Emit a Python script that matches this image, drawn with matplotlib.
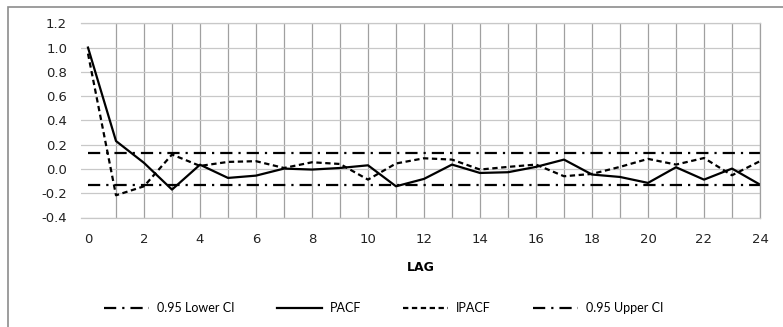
import matplotlib.pyplot as plt
from matplotlib.patches import Rectangle
import numpy as np

plt.rcParams['axes.unicode_minus'] = False

lags = list(range(25))
pacf = [1.0, 0.23, 0.05, -0.17, 0.035, -0.074, -0.055, 0.003, -0.005, 0.008,
        0.03, -0.143, -0.082, 0.036, -0.033, -0.027, 0.017, 0.077, -0.046, -0.066,
        -0.115, 0.014, -0.088, 0.003, -0.129]
ipacf = [0.95, -0.217, -0.143, 0.119, 0.025, 0.058, 0.064, 0.008, 0.055, 0.041,
         -0.088, 0.045, 0.088, 0.077, -0.005, 0.017, 0.036, -0.06, -0.041, 0.017,
         0.083, 0.036, 0.09, -0.052, 0.064]
upper_ci = 0.132
lower_ci = -0.135

fig = plt.figure(figsize=(7.83, 3.27), dpi=100)
ax = fig.add_axes([81 / 783, 1 - 217.5 / 327, (760 - 81) / 783, (217.5 - 23.3) / 327])

dashdot = (0, (5.5, 2.7, 1, 2.7))
ax.plot(lags, np.full(len(lags), lower_ci), color='black', lw=1.6, linestyle=dashdot,
        label='0.95 Lower CI')
ax.plot(lags, pacf, color='black', lw=1.6, label='PACF')
ax.plot(lags, ipacf, color='black', lw=1.6, linestyle=(0, (2.4, 1.6)), label='IPACF')
ax.plot(lags, np.full(len(lags), upper_ci), color='black', lw=1.6, linestyle=dashdot,
        label='0.95 Upper CI')

ax.set_xlim(-0.25, 24)
ax.set_ylim(-0.4, 1.2)
ax.set_xticks(range(0, 25, 2))
ax.set_xticks(range(1, 25, 2), minor=True)
ax.set_yticks(np.arange(-0.4, 1.21, 0.2))
ax.set_yticklabels(['%.1f' % v for v in np.arange(-0.4, 1.21, 0.2)])

ax.grid(axis='x', which='both', color='#a0a0a0', lw=0.9)
ax.grid(axis='y', color='#c8c8c8', lw=0.9)
ax.xaxis.get_gridlines()[0].set_visible(False)
ax.set_axisbelow(True)

ax.spines['left'].set_visible(False)
ax.spines['top'].set_color('#c8c8c8')
ax.spines['bottom'].set_color('#c8c8c8')
ax.spines['right'].set_color('#a0a0a0')
for s in ['top', 'bottom', 'right']:
    ax.spines[s].set_linewidth(0.9)

ax.tick_params(axis='both', which='both', length=0, labelsize=9.5, colors='#222222')
ax.tick_params(axis='x', pad=11)
ax.tick_params(axis='y', pad=10)

ax.set_xlabel('LAG', fontsize=9, fontweight='bold', labelpad=11)

fig.legend(loc='center', bbox_to_anchor=(0.49, 0.058), ncol=4, frameon=False,
           prop={'family': 'Lato', 'size': 9}, handlelength=3.6, columnspacing=3.4,
           handletextpad=0.6)

fig.patches.append(Rectangle((8 / 783, -0.05), 1.1, 1.05 - 7 / 327, transform=fig.transFigure,
                             fill=False, edgecolor='#8c8c8c', lw=1.2))

fig.savefig('out.png', dpi=100)
